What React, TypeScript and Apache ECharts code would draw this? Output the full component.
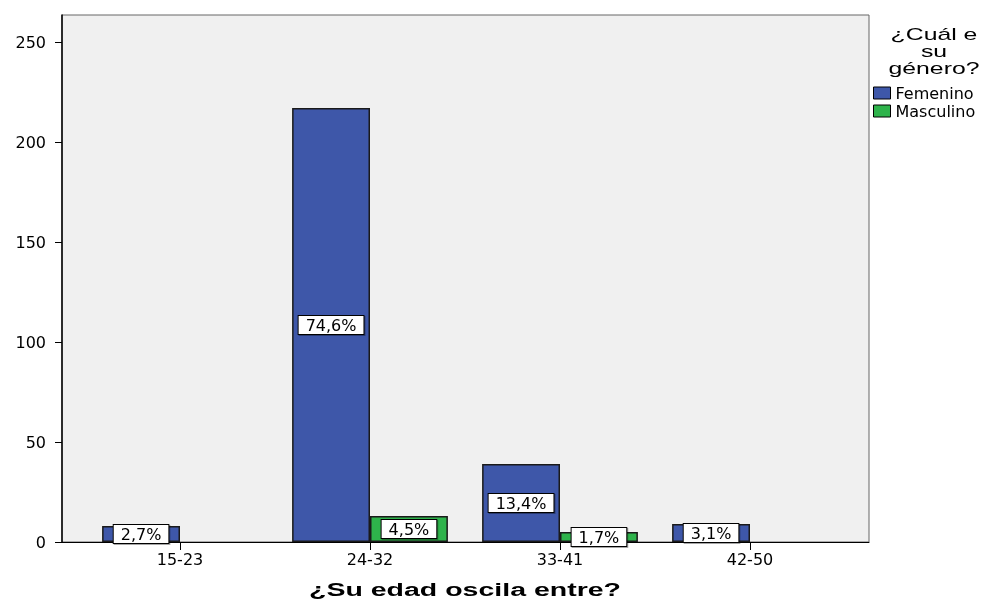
import React, { useEffect, useRef } from 'react';
import * as echarts from 'echarts';

const categories = ['15-23', '24-32', '33-41', '42-50'];
const femenino: (number | null)[] = [8, 217, 39, 9];
const masculino: (number | null)[] = [null, 13, 5, null];
const femeninoPct = ['2,7%', '74,6%', '13,4%', '3,1%'];
const masculinoPct = ['', '4,5%', '1,7%', ''];
const yTicks = [0, 50, 100, 150, 200, 250];
const yMax = 263.5;
const legendTitle = '¿Cuál e\nsu\ngénero?';
const xAxisTitle = '¿Su edad oscila entre?';

const FONT = 'DejaVu Sans';

export default function App() {
  const ref = useRef<HTMLDivElement>(null);
  useEffect(() => {
    if (!ref.current) return;
    const chart = echarts.init(ref.current, undefined, { renderer: 'svg' });
    const labelStyle = {
      show: true,
      position: 'inside',
      color: '#000',
      fontFamily: FONT,
      fontSize: 16,
      lineHeight: 16,
      backgroundColor: '#fff',
      borderColor: '#000',
      borderWidth: 1,
      padding: [1, 7],
      shadowColor: 'rgba(0,0,0,0.35)',
      shadowOffsetX: 1,
      shadowOffsetY: 1,
      shadowBlur: 1,
    };
    chart.setOption({
      animation: false,
      grid: [
        { left: 62, top: 15, width: 807, height: 527, show: true, backgroundColor: '#f0f0f0', borderColor: '#666', borderWidth: 1 },
        { left: 85, top: 15, width: 760, height: 527 },
      ],
      xAxis: [
        { type: 'category', gridIndex: 0, data: categories, axisLine: { show: true, lineStyle: { color: '#000', width: 1 } }, axisTick: { show: false }, axisLabel: { show: false } },
        {
          type: 'category', gridIndex: 1, data: categories,
          axisLine: { show: false },
          axisTick: { show: true, alignWithLabel: true, length: 8, lineStyle: { color: '#000', width: 1 } },
          axisLabel: { color: '#000', fontFamily: FONT, fontSize: 16, margin: 9 },
        },
      ],
      yAxis: [
        {
          type: 'value', gridIndex: 0, min: 0, max: yMax, interval: 50,
          axisLine: { show: true, lineStyle: { color: '#000', width: 1.5 } },
          axisTick: { show: true, length: 7, customValues: yTicks, lineStyle: { color: '#000', width: 1 } },
          axisLabel: { color: '#000', fontFamily: FONT, fontSize: 16, margin: 16, customValues: yTicks },
          splitLine: { show: false },
        },
        { type: 'value', gridIndex: 1, min: 0, max: yMax, interval: 50, show: false, splitLine: { show: false } },
      ],
      legend: {
        orient: 'vertical',
        left: 873,
        top: 85,
        itemWidth: 17,
        itemHeight: 12,
        itemGap: 2,
        icon: 'rect',
        padding: 0,
        textStyle: { color: '#000', fontFamily: FONT, fontSize: 16, lineHeight: 13, padding: [0, 0, 0, 0] },
        itemStyle: { borderColor: '#000', borderWidth: 1 },
        data: ['Femenino', 'Masculino'],
      },
      graphic: [
        {
          type: 'text', x: 934, y: 26, scaleX: 1.55,
          style: { text: legendTitle, x: 0, y: 0, textAlign: 'center', fill: '#000', font: `16px "Liberation Sans"`, lineHeight: 17 },
        },
        {
          type: 'text', x: 465, y: 580, scaleX: 1.5,
          style: { text: xAxisTitle, x: 0, y: 0, textAlign: 'center', fill: '#000', font: `bold 19px "Liberation Sans"` },
        },
      ],
      series: [
        {
          name: 'Femenino', type: 'bar', xAxisIndex: 1, yAxisIndex: 1, data: femenino,
          barGap: '0%', barCategoryGap: '18%',
          itemStyle: { color: '#3e57a9', borderColor: '#1a1a1a', borderWidth: 1.5 },
          label: { ...labelStyle, formatter: (p: any) => femeninoPct[p.dataIndex] },
        },
        {
          name: 'Masculino', type: 'bar', xAxisIndex: 1, yAxisIndex: 1, data: masculino,
          itemStyle: { color: '#2eb34b', borderColor: '#1a1a1a', borderWidth: 1.5 },
          label: { ...labelStyle, formatter: (p: any) => masculinoPct[p.dataIndex] },
        },
      ],
    });
    return () => chart.dispose();
  }, []);
  return <div ref={ref} style={{ position: 'fixed', left: 0, top: 0, width: 995, height: 599 }} />;
}
